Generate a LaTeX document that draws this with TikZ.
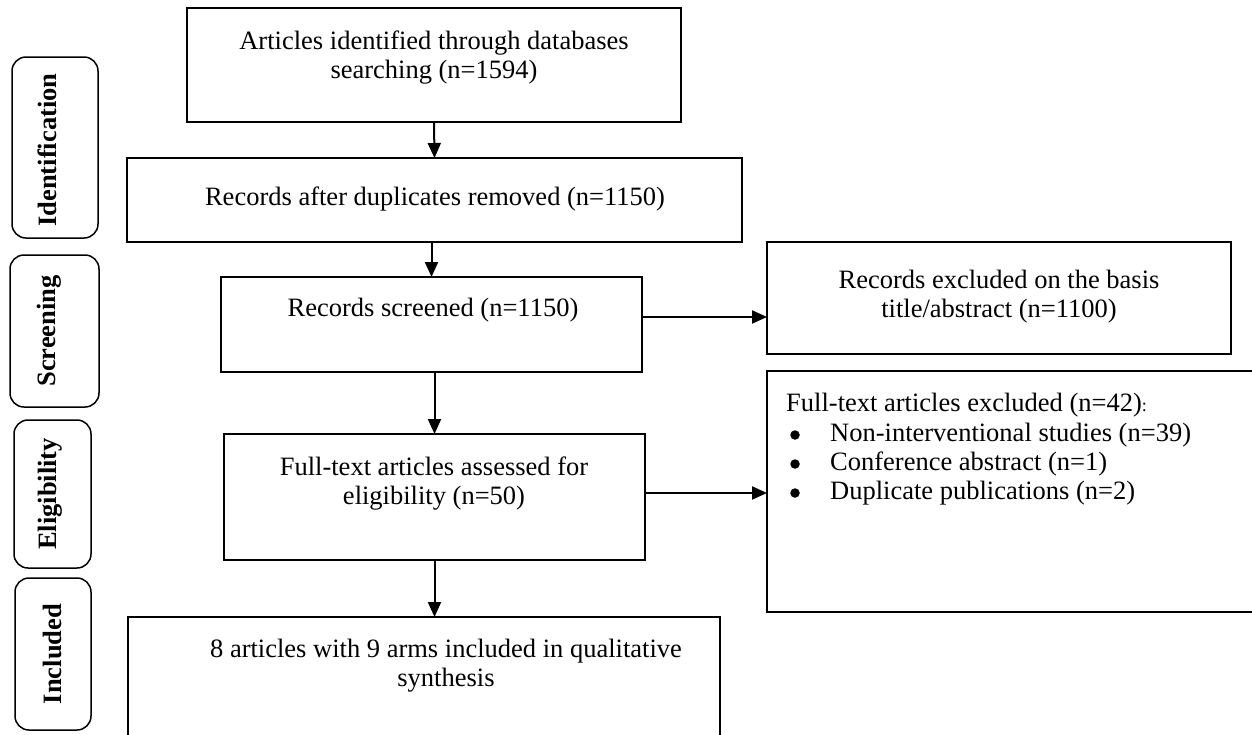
\documentclass[tikz,border=0pt]{standalone}
\usepackage{fontspec}
\setmainfont{Liberation Serif}
\usetikzlibrary{arrows.meta,calc}
\begin{document}
\begin{tikzpicture}[x=1pt,y=-1pt,
  box/.style={draw,line width=1.5pt,inner sep=0pt,outer sep=0pt},
  lbl/.style={font=\fontsize{26.5}{29}\selectfont,inner sep=0pt,align=center},
  lblleft/.style={font=\fontsize{26.5}{29}\selectfont,inner sep=0pt,anchor=west},
  bul/.style={circle,fill=black,inner sep=0pt,minimum size=9.5pt},
  side/.style={draw,line width=1.5pt,rounded corners=14pt,inner sep=0pt,outer sep=0pt},
  sidetxt/.style={font=\fontsize{26.5}{29}\selectfont\bfseries,rotate=90,inner sep=0pt},
  arr/.style={line width=2pt,-{Triangle[length=15pt,width=13pt]}}]
\useasboundingbox (0,0) rectangle (1252,734);
\clip (0,0) rectangle (1252,734);

% side stage labels
\node[side,minimum width=86pt,minimum height=181pt] (sid) at (55,147.5) {};
\node[sidetxt] (tid) at (47,150) {Identification};
\node[side,minimum width=89pt,minimum height=152pt] (sscr) at (54.5,331) {};
\node[sidetxt] (tscr) at (49,331) {Screening};
\node[side,minimum width=77pt,minimum height=148pt] (seli) at (52.5,494) {};
\node[sidetxt] (teli) at (50,494) {Eligibility};
\node[side,minimum width=76pt,minimum height=152pt] (sinc) at (53,654) {};
\node[sidetxt] (tinc) at (52,654) {Included};

% main boxes
\node[box,minimum width=494pt,minimum height=114pt] (b1) at (434,65) {};
\node[lbl] (t1) at (434,58) {Articles identified through databases\\searching (n=1594)};

\node[box,minimum width=615pt,minimum height=84pt] (b2) at (434.5,200) {};
\node[lbl] (t2) at (435,199) {Records after duplicates removed (n=1150)};

\node[box,minimum width=421pt,minimum height=95pt] (b3) at (431.5,324.5) {};
\node[lbl] (t3) at (433,310) {Records screened (n=1150)};

\node[box,minimum width=464pt,minimum height=112pt] (b4) at (999,298) {};
\node[lbl] (t4) at (999,297) {Records excluded on the basis\\title/abstract (n=1100)};

\node[box,minimum width=520pt,minimum height=241pt] (b5) at (1027,491.5) {};
\node[lblleft] (t5) at (786,405) {Full-text articles excluded (n=42){\fontsize{18}{20}\selectfont :}};
\node[bul] (t5a) at (795,435) {};
\node[lblleft] (t5b) at (830,435) {Non-interventional studies (n=39)};
\node[bul] (t5c) at (795,464) {};
\node[lblleft] (t5d) at (830,464) {Conference abstract (n=1)};
\node[bul] (t5e) at (795,493) {};
\node[lblleft] (t5f) at (830,493) {Duplicate publications (n=2)};

\node[box,minimum width=421pt,minimum height=126pt] (b6) at (434.5,497) {};
\node[lbl] (t6) at (434,484) {Full-text articles assessed for\\eligibility (n=50)};

\node[box,minimum width=592pt,minimum height=130pt] (b7) at (424,682) {};
\node[lbl] (t7) at (446,666) {8 articles with 9 arms included in qualitative\\synthesis};

% connectors
\coordinate (ya) at (0,317);
\coordinate (yb) at (0,493);
\draw[arr] (b1.south) -- (b2.north);
\draw[arr] (b2.south -| b3.north) -- (b3.north);
\draw[arr] (b3.south -| b6.north) -- (b6.north);
\draw[arr] (b6.south) -- (b6.south |- b7.north);
\draw[arr] (b3.east |- ya) -- (b4.west |- ya);
\draw[arr] (b6.east |- yb) -- (b5.west |- yb);
\end{tikzpicture}
\end{document}
